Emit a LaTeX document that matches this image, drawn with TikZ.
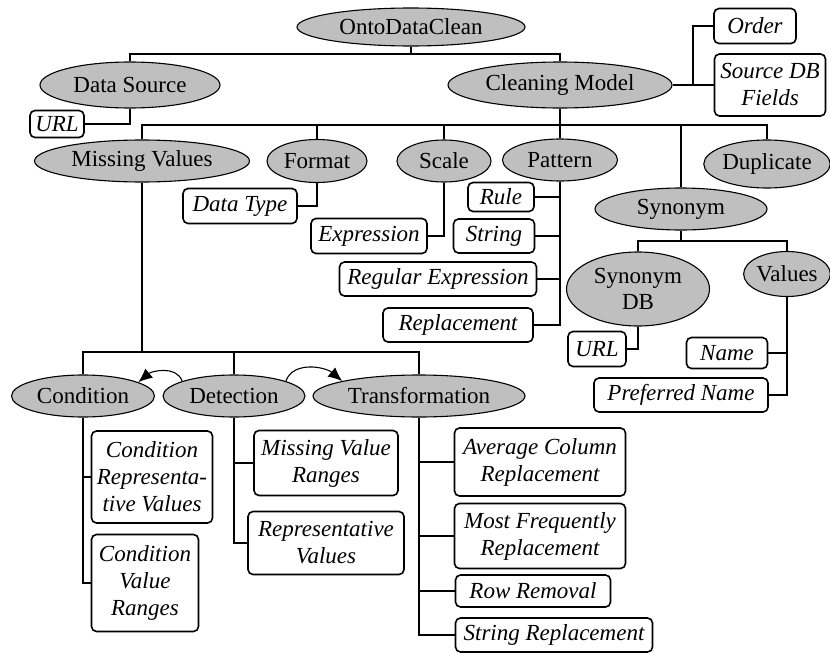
\documentclass[tikz,border=0pt]{standalone}
\usepackage{fontspec}
\setmainfont{Liberation Serif}
\usepackage{tikz}
\usetikzlibrary{shapes.geometric}
\usetikzlibrary{arrows.meta}
\tikzstyle{concept}=[ellipse,draw,fill=black!25,line width=1.1pt,inner sep=0pt,align=center,font=\fontsize{23}{26}\selectfont]
\tikzstyle{attribute}=[rectangle,rounded corners=5pt,draw,fill=white,line width=1.6pt,inner sep=1pt,align=center,font=\fontsize{23}{27}\selectfont\itshape]
\tikzstyle{link} = [draw,line width=1.3pt]
\tikzstyle{flow} = [draw,line width=1.1pt]

\begin{document}
\begin{tikzpicture}[x=1pt,y=1pt]
\useasboundingbox (0,0) rectangle (830,-653);

    % First we draw the concepts
    \foreach \pos/\name/\w/\h/\label in {{(411,-27)/root/228/38/OntoDataClean}, {(130,-85)/DS/180/46/Data Source}, {(560,-85)/CM/224/46/Cleaning Model},
      {(142,-161)/MV/215/42/Missing Values}, {(317,-161)/Fmt/100/43/Format}, {(444,-161)/Scale/94/42/Scale}, {(560,-160)/Pat/115/42/Pattern},
      {(767,-164)/Dup/124/48/Duplicate}, {(681,-209)/Syn/172/42/Synonym}, {(638,-289)/SynDB/143/74/{Synonym\\DB}}, {(787,-274)/Val/84/45/Values},
      {(83,-396)/Cond/143/42/Condition}, {(234,-396)/Det/142/42/Detection}, {(419,-396)/Trans/212/42/Transformation}}
        \node[concept,minimum width=\w pt,minimum height=\h pt] (\name) at \pos {\label};

    % Then the attributes
    \foreach \pos/\name/\w/\h/\label in {{(57,-124)/URLa/54/27/URL}, {(755,-26)/Order/82/35/Order}, {(770,-85)/SDB/111/62/{Source DB\\Fields}},
      {(240,-206)/DType/114/35/Data Type}, {(369,-236)/Expr/116/35/Expression}, {(501,-197)/Rule/66/29/Rule}, {(494,-236)/Str/81/34/String},
      {(438,-279)/RegExp/197/34/Regular Expression}, {(458,-325)/Repl/150/34/Replacement}, {(597,-349)/URLb/58/35/URL},
      {(727,-353)/Name/81/31/Name}, {(681,-395)/PrefName/174/34/Preferred Name},
      {(152,-477)/CondRep/121/92/{Condition\\Representa-\\tive Values}}, {(145,-583)/CondVal/107/97/{Condition\\Value\\Ranges}},
      {(326,-463)/MissVal/144/65/{Missing Value\\Ranges}}, {(326,-543)/RepVal/156/63/{Representative\\Values}},
      {(540,-462)/AvgCol/171/68/{Average Column\\Replacement}}, {(540,-536)/MostFreq/171/65/{Most Frequently\\Replacement}},
      {(533,-591)/RowRem/155/32/Row Removal}, {(554,-635)/StrRepl/197/34/String Replacement}}
        \node[attribute,minimum width=\w pt,minimum height=\h pt] (\name) at \pos {\label};

    % Connect the root and the cleaning model to their parts
    \coordinate (rootbus) at (411,-54);
    \path[link] (root) -- (rootbus) -| (DS);
    \path[link] (rootbus) -| (CM);

    \coordinate (cmside) at (693,-85);
    \path[link] (CM) -- (cmside) |- (Order);
    \path[link] (cmside) -- (SDB);

    \coordinate (cmbus) at (560,-125);
    \path[link] (CM) -- (cmbus);
  \foreach \dest in {MV, Fmt, Scale, Pat, Syn, Dup}
          \path[link] (cmbus) -| (\dest);

    \coordinate (synbus) at (681,-241);
    \path[link] (Syn) -- (synbus) -| (SynDB);
    \path[link] (synbus) -| (Val);

    \coordinate (mvbus) at (142,-352);
    \path[link] (MV) -- (mvbus);
  \foreach \dest in {Cond, Det, Trans}
          \path[link] (mvbus) -| (\dest);

    % Connect concepts with their attributes
  \foreach \source/ \dest in {DS/URLa, Fmt/DType, Scale/Expr, Pat/Rule, Pat/Str, Pat/RegExp, Pat/Repl, SynDB/URLb, Val/Name, Val/PrefName,
      Cond/CondRep, Cond/CondVal, Det/MissVal, Det/RepVal, Trans/AvgCol, Trans/MostFreq, Trans/RowRem, Trans/StrRepl}
          \path[link] (\source) |- (\dest);

    % Order of the missing value steps
    \path[flow,-{Latex[length=14pt,width=12pt]}] (Det.164) to[out=110,in=40] (Cond.14);
    \path[flow,-{Latex[length=14pt,width=12pt]}] (Det.16) to[out=70,in=140] (Trans.169);

\end{tikzpicture}
\end{document}
